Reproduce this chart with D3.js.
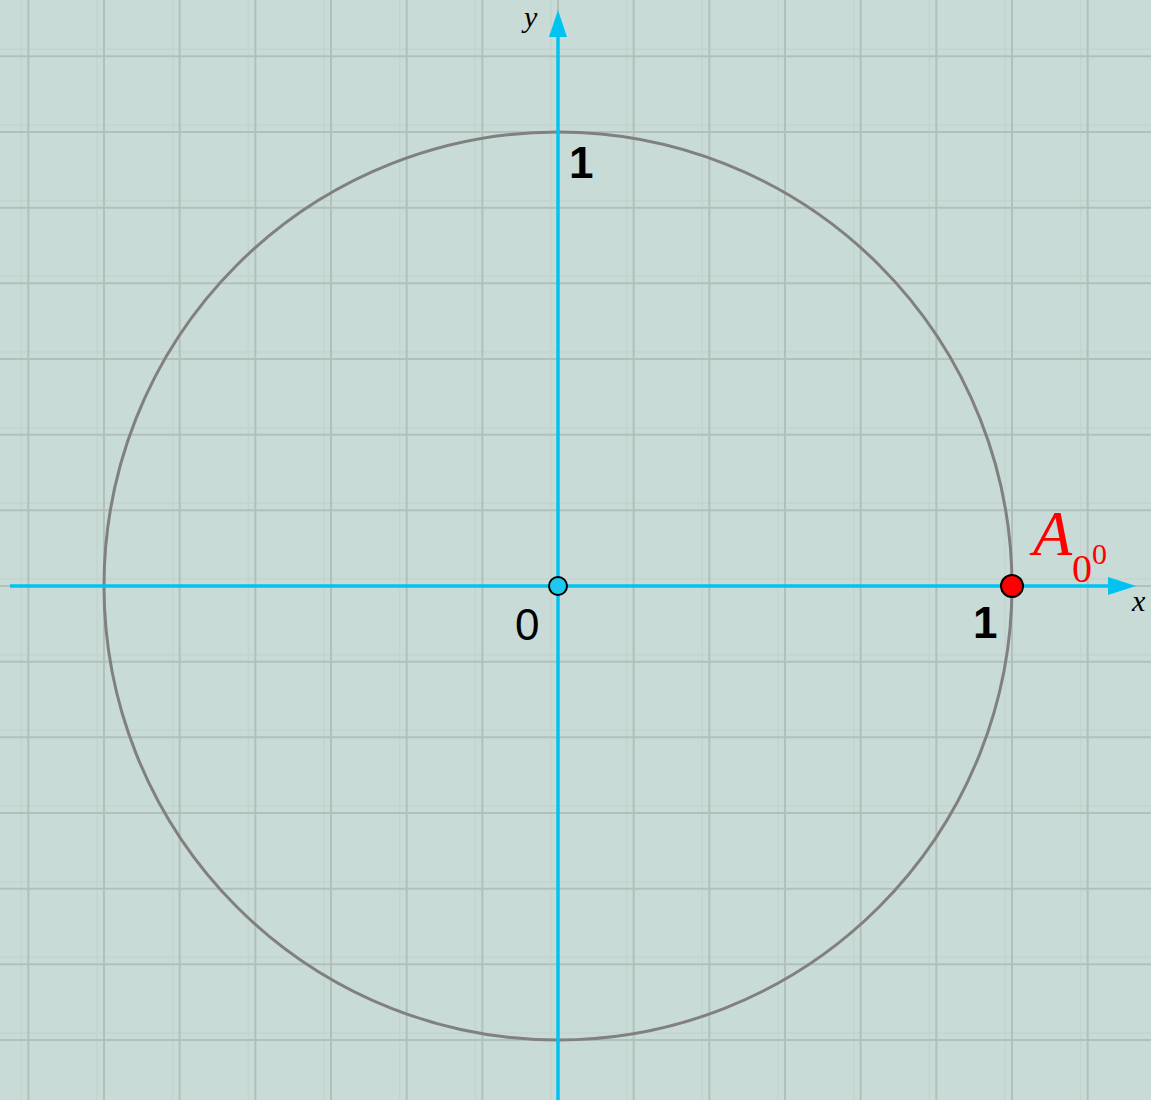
<!DOCTYPE html>
<html>
<head>
<meta charset="utf-8">
<script src="https://cdn.jsdelivr.net/npm/d3@7"></script>
<style>
  html, body { margin: 0; padding: 0; background: #c9dbd6; }
  svg { display: block; }
</style>
</head>
<body>
<div id="chart"></div>
<script>
// grid steps are sixths of the unit radius
var gridX = d3.range(-7, 9).map(function (k) { return k / 6; });
var gridY = d3.range(-7, 8).map(function (k) { return k / 6; });
var circleRadius = [1];
var points = [
  { name: "O", x: 0, y: 0, fill: "#1ec8f0" },
  { name: "A", x: 1, y: 0, fill: "#ff0000" }
];
var tickLabels = [
  { text: "1", x: 1, y: 0, bold: true },
  { text: "1", x: 0, y: 1, bold: true },
  { text: "0", x: 0, y: 0, bold: false }
];

var width = 1151, height = 1100;
var cx = 558, cy = 586, R = 454;
var sansFont = "'Liberation Sans', Arial, sans-serif";
var serifFont = "'Liberation Serif', 'Times New Roman', serif";

var x = d3.scaleLinear().domain([-1, 1]).range([cx - R, cx + R]);
var y = d3.scaleLinear().domain([-1, 1]).range([cy + R, cy - R]);

var svg = d3.select("#chart").append("svg")
  .attr("width", width)
  .attr("height", height);

svg.append("rect")
  .attr("width", width).attr("height", height)
  .attr("fill", "#c9dbd6");

// faint shadow lines beside the grid
svg.selectAll("line.vx2").data(gridX).enter().append("line")
  .attr("x1", function (d) { return x(d) - 7; })
  .attr("x2", function (d) { return x(d) - 7; })
  .attr("y1", 0).attr("y2", height)
  .attr("stroke", "#c3d4cf").attr("stroke-width", 1.5);
svg.selectAll("line.hy2").data(gridY).enter().append("line")
  .attr("y1", function (d) { return y(d) - 7; })
  .attr("y2", function (d) { return y(d) - 7; })
  .attr("x1", 0).attr("x2", width)
  .attr("stroke", "#c3d4cf").attr("stroke-width", 1.5);

// grid
svg.selectAll("line.vx").data(gridX).enter().append("line")
  .attr("x1", function (d) { return x(d); })
  .attr("x2", function (d) { return x(d); })
  .attr("y1", 0).attr("y2", height)
  .attr("stroke", "#b2c0bc").attr("stroke-width", 2);
svg.selectAll("line.hy").data(gridY).enter().append("line")
  .attr("y1", function (d) { return y(d); })
  .attr("y2", function (d) { return y(d); })
  .attr("x1", 0).attr("x2", width)
  .attr("stroke", "#b2c0bc").attr("stroke-width", 2);

// circle
svg.selectAll("circle.unit").data(circleRadius).enter().append("circle")
  .attr("cx", x(0)).attr("cy", y(0))
  .attr("r", function (d) { return x(d) - x(0); })
  .attr("fill", "none")
  .attr("stroke", "#808080")
  .attr("stroke-width", 3);

// axes
var axisColor = "#00c3f2";
svg.append("line")
  .attr("x1", 10).attr("x2", 1115)
  .attr("y1", y(0)).attr("y2", y(0))
  .attr("stroke", axisColor).attr("stroke-width", 3.5);
svg.append("path")
  .attr("d", "M1136," + y(0) + " L1108," + (y(0) - 9) + " L1108," + (y(0) + 9) + " Z")
  .attr("fill", axisColor);
svg.append("line")
  .attr("x1", x(0)).attr("x2", x(0))
  .attr("y1", height).attr("y2", 30)
  .attr("stroke", axisColor).attr("stroke-width", 3.5);
svg.append("path")
  .attr("d", "M" + x(0) + ",10 L" + (x(0) - 9) + ",37 L" + (x(0) + 9) + ",37 Z")
  .attr("fill", axisColor);

// axis names
svg.append("text")
  .attr("x", 1132).attr("y", 611)
  .attr("font-family", serifFont)
  .attr("font-style", "italic")
  .attr("font-size", 30)
  .text("x");
svg.append("text")
  .attr("x", 524).attr("y", 27)
  .attr("font-family", serifFont)
  .attr("font-style", "italic")
  .attr("font-size", 30)
  .text("y");

// tick labels
svg.selectAll("text.tick").data(tickLabels).enter().append("text")
  .attr("x", function (d) {
    if (d.x === 1) return x(d.x) - 39;
    if (d.y === 1) return x(d.x) + 11;
    return x(d.x) - 43;
  })
  .attr("y", function (d) {
    if (d.x === 1) return y(d.y) + 52;
    if (d.y === 1) return y(d.y) + 46;
    return y(d.y) + 54;
  })
  .attr("font-family", sansFont)
  .attr("font-weight", function (d) { return d.bold ? "bold" : "normal"; })
  .attr("font-size", 44)
  .attr("fill", "#000")
  .text(function (d) { return d.text; });

// points
svg.selectAll("circle.pt").data(points).enter().append("circle")
  .attr("cx", function (d) { return x(d.x); })
  .attr("cy", function (d) { return y(d.y); })
  .attr("r", function (d) { return d.name === "A" ? 11 : 9; })
  .attr("fill", function (d) { return d.fill; })
  .attr("stroke", "#000")
  .attr("stroke-width", 2);

// point label A_{0^0}
var lab = svg.append("text")
  .attr("x", 1033).attr("y", 555)
  .attr("font-family", serifFont)
  .attr("fill", "#ff0000");
lab.append("tspan").attr("font-style", "italic").attr("font-size", 64).text("A");
lab.append("tspan").attr("font-size", 40).attr("dy", 27).text("0");
lab.append("tspan").attr("font-size", 30).attr("dy", -18).text("0");
</script>
</body>
</html>
